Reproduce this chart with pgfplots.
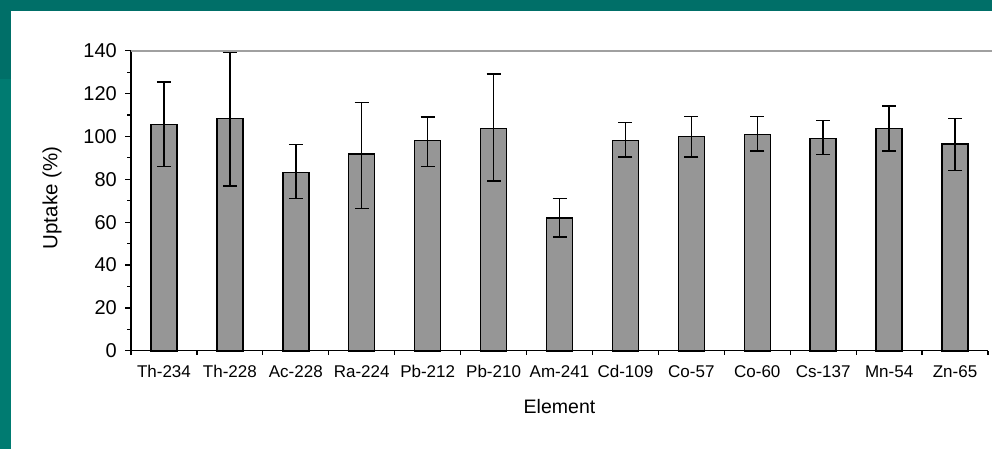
\documentclass[border=0pt]{standalone}
\usepackage{pgfplots}
\pgfplotsset{compat=1.18}
\usepackage{fontspec}
\setmainfont{Liberation Sans}
\definecolor{tealdark}{HTML}{006F68}
\definecolor{teallight}{HTML}{007B71}
\definecolor{barfill}{HTML}{969696}
\definecolor{topline}{HTML}{A0A0A0}
\pgfplotstableread{
x y ep em
0 105.6 19.8 19.6
1 108.4 30.8 31.6
2 83.2 13.1 12.1
3 91.8 24.1 25.5
4 98.2 10.8 12.2
5 103.8 25.3 24.5
6 61.9 9.2 8.7
7 98.0 8.6 7.5
8 100.0 9.4 9.5
9 101.0 8.4 7.7
10 99.1 8.4 7.5
11 103.6 10.6 10.3
12 96.5 11.9 12.3
}\uptake
\begin{document}
\begin{tikzpicture}[x=1pt,y=1pt]
\fill[tealdark] (0,0) rectangle (992,449);
\fill[teallight] (0,0) rectangle (11,370);
\fill[white] (11,0) rectangle (992,438);
\begin{axis}[
  at={(131pt,98.2pt)}, anchor=south west,
  scale only axis, width=857pt, height=300.1pt,
  xmin=-0.5, xmax=12.5, ymin=0, ymax=140,
  ytick={0,20,...,140}, minor y tick num=1,
  xtick={0,...,12},
  xticklabels={Th-234,Th-228,Ac-228,Ra-224,Pb-212,Pb-210,Am-241,Cd-109,Co-57,Co-60,Cs-137,Mn-54,Zn-65},
  minor xtick={-0.5,0.5,...,12.5},
  every major x tick/.append style={draw=none},
  tick align=outside,
  axis x line*=bottom, axis y line*=left,
  axis line style={black, line width=1.2pt},
  tick style={black, line width=1.2pt},
  major tick length=6pt, minor tick length=4pt,
  /pgf/number format/assume math mode=true,
  yticklabel style={font=\fontsize{20}{22}\selectfont, anchor=east, inner sep=0pt, xshift=-8pt},
  xticklabel style={font=\fontsize{17}{19}\selectfont, anchor=center, inner sep=0pt, yshift=-15pt},
  xlabel={Element},
  every axis x label/.style={at={(axis description cs:0.5,-0.1866)}, anchor=center, font=\fontsize{19.5}{21}\selectfont},
  clip=false,
]
\addplot[ybar, bar width=26pt, fill=barfill, draw=black, line width=1.5pt,
  error bars/.cd, y dir=both, y explicit,
  error bar style={line width=1.5pt, black},
  error mark options={rotate=90, mark size=7pt, line width=1.5pt, black}]
  table[x=x, y=y, y error plus=ep, y error minus=em] {\uptake};
\end{axis}
\node[rotate=90, anchor=center, inner sep=0pt, font=\fontsize{20.5}{22}\selectfont] at (52,251) {Uptake (\%)};
\draw[topline, line width=1.8pt] (131,398.3) -- (992,398.3);
\pgfresetboundingbox
\useasboundingbox (0,0) rectangle (992,449);
\end{tikzpicture}
\end{document}
